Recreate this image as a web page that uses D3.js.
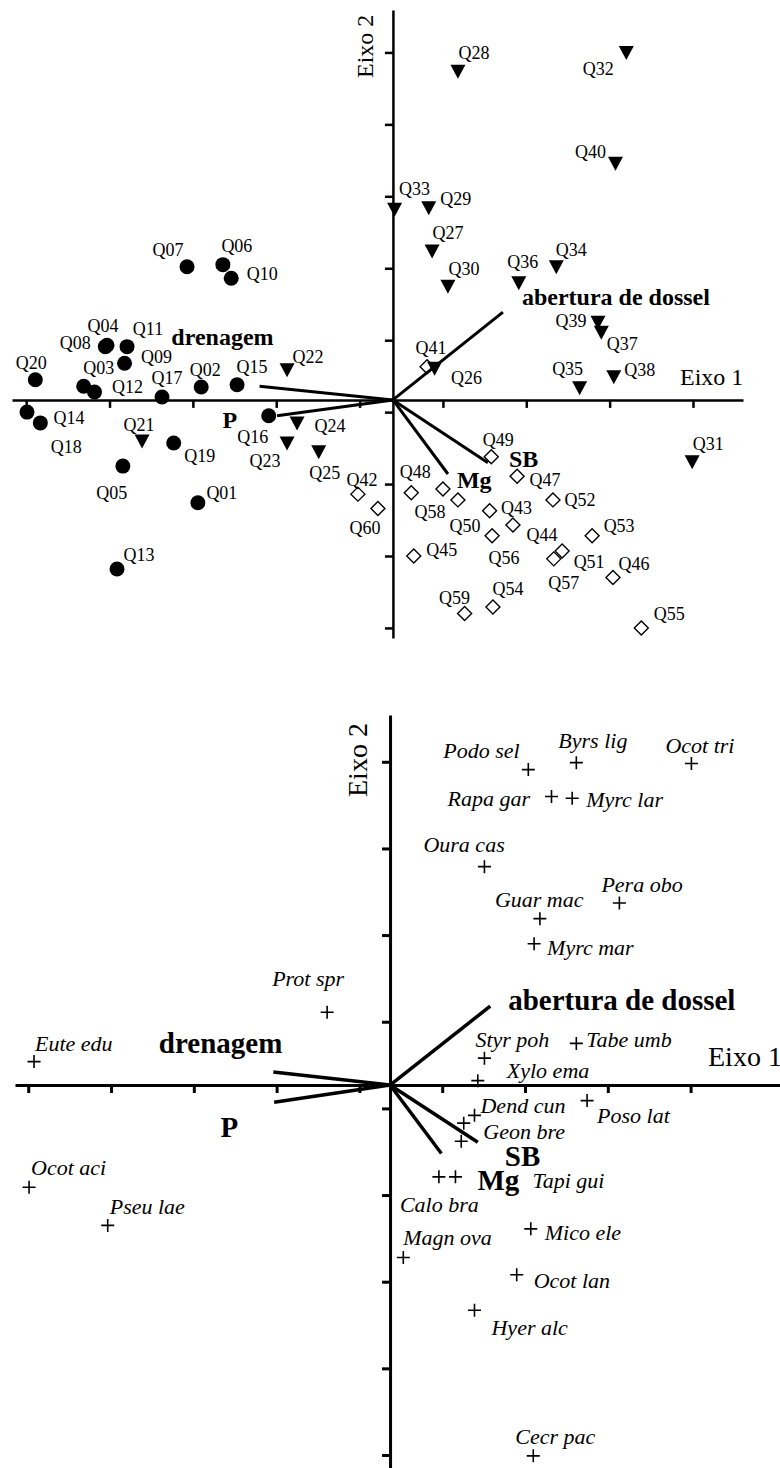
<!DOCTYPE html>
<html>
<head>
<meta charset="utf-8">
<script src="https://cdn.jsdelivr.net/npm/d3@7"></script>
<style>
  html, body { margin: 0; padding: 0; background: #fff; }
  svg { display: block; }
  text { font-family: "Liberation Serif", "Times New Roman", Times, serif; fill: #000; }
</style>
</head>
<body>
<svg id="chart" width="780" height="1468"></svg>
<script>
// ---------- Site scores (CCA, axis 1 and axis 2) ----------
const siteNames = [
  "Q01","Q02","Q03","Q04","Q05","Q06","Q07","Q08","Q09","Q10",
  "Q11","Q12","Q13","Q14","Q15","Q16","Q17","Q18","Q19","Q20",
  "Q21","Q22","Q23","Q24","Q25","Q26","Q27","Q28","Q29","Q30",
  "Q31","Q32","Q33","Q34","Q35","Q36","Q37","Q38","Q39","Q40",
  "Q41","Q42","Q43","Q44","Q45","Q46","Q47","Q48","Q49","Q50",
  "Q51","Q52","Q53","Q54","Q55","Q56","Q57","Q58","Q59","Q60"
];
const siteAxis1 = [
  -2.34,-2.30,-3.71,-3.43,-3.24,-2.04,-2.47,-3.45,-3.22,-1.94,
  -3.19,-3.58,-3.31,-4.39,-1.87,-1.49,-2.77,-4.23,-2.63,-4.29,
  -3.01,-1.27,-1.27,-1.15,-0.89, 0.50, 0.47, 0.78, 0.43, 0.66,
   3.59, 2.80, 0.02, 1.96, 2.24, 1.51, 2.50, 2.65, 2.46, 2.67,
   0.41,-0.42, 1.16, 1.44, 0.25, 2.64, 1.49, 0.22, 1.18, 0.78,
   2.03, 1.92, 2.39, 1.20, 2.98, 1.19, 1.93, 0.60, 0.86,-0.18
];
const siteAxis2 = [
  -1.43, 0.18, 0.19, 0.76,-0.92, 1.88, 1.85, 0.74, 0.51, 1.69,
   0.74, 0.11,-2.35,-0.17, 0.21,-0.22, 0.04,-0.32,-0.60, 0.28,
  -0.57, 0.42,-0.60,-0.32,-0.72, 0.44, 2.07, 4.57, 2.67, 1.58,
  -0.86, 4.83, 2.65, 1.85, 0.17, 1.63, 0.94, 0.32, 1.08, 3.29,
   0.46,-1.31,-1.54,-1.74,-2.17,-2.47,-1.06,-1.29,-0.79,-1.39,
  -2.10,-1.39,-1.89,-2.88,-3.17,-1.89,-2.21,-1.24,-2.97,-1.51
];
// site group: 1 = filled circle, 2 = filled triangle, 3 = open diamond
const siteGroup = [
  1,1,1,1,1,1,1,1,1,1, 1,1,1,1,1,1,1,1,1,1,
  2,2,2,2,2,2,2,2,2,2, 2,2,2,2,2,2,2,2,2,2,
  3,3,3,3,3,3,3,3,3,3, 3,3,3,3,3,3,3,3,3,3
];

// ---------- Environmental variables (biplot arrows) ----------
const envNames = ["drenagem", "P", "abertura de dossel", "SB", "Mg"];
const envSiteAxis1 = [-1.60, -1.39, 1.32, 1.14, 0.66];
const envSiteAxis2 = [ 0.19, -0.22, 1.22, -0.875, -1.03];
const envSpecAxis1 = [-1.41, -1.40, 1.21, 1.06, 0.62];
const envSpecAxis2 = [ 0.15, -0.20, 0.91, -0.66, -0.79];

// ---------- Species scores ----------
const speciesNames = [
  "Podo sel","Byrs lig","Ocot tri","Rapa gar","Myrc lar","Oura cas","Pera obo",
  "Guar mac","Myrc mar","Prot spr","Eute edu","Styr poh","Tabe umb","Xylo ema",
  "Dend cun","","Geon bre","Poso lat","Ocot aci","Pseu lae","Calo bra","Tapi gui",
  "Mico ele","Magn ova","Ocot lan","Hyer alc","Cecr pac"
];
const speciesAxis1 = [
  1.67, 2.25, 3.64, 1.95, 2.20, 1.14, 2.77,
  1.81, 1.74,-0.76,-4.30, 1.14, 2.25, 1.06,
  1.02, 0.89, 0.86, 2.38,-4.36,-3.41, 0.59, 0.79,
  1.70, 0.16, 1.53, 1.02, 1.73
];
const speciesAxis2 = [
  3.64, 3.72, 3.71, 3.33, 3.31, 2.52, 2.10,
  1.92, 1.63, 0.84, 0.27, 0.31, 0.48, 0.05,
 -0.35,-0.44,-0.65,-0.18,-1.18,-1.62,-1.06,-1.06,
 -1.66,-1.99,-2.19,-2.60,-4.28
];

// ---------- Axis decorations ----------
const topTicks1 = [-4.4,-3.4,-2.4,-1.4,-0.4,0.6,1.6,2.6,3.6];
const topTicks2 = [-3.17,-2.17,-1.17,-0.17,0.83,1.83,2.83,3.83,4.83];
const botTicks1 = [-4.37,-3.37,-2.37,-1.37,-0.37,0.63,1.63,2.63,3.63];
const botTicks2 = [-4.27,-3.27,-2.27,-1.27,-0.27,0.73,1.73,2.73,3.73];
const axisTitles = ["Eixo 1", "Eixo 2"];

// ---------- Label placement (offset from the marker, px) ----------
const siteLabelOffset = {
  Q01:[24,-10],Q02:[4,-17],Q03:[15,-18],Q04:[-4,-19],Q05:[-11,27],Q06:[14,-19],
  Q07:[-19,-17],Q08:[-30,-4],Q09:[32,-6],Q10:[31,-4],Q11:[21,-18],Q12:[33,-5],
  Q13:[22,-14],Q14:[42,6],Q15:[15,-18],Q16:[-16,21],Q17:[5,-19],Q18:[26,24],
  Q19:[26,13],Q20:[-4,-17],Q21:[-3,-16],Q22:[21,-13],Q23:[-22,18],Q24:[33,3],
  Q25:[6,21],Q26:[32,10],Q27:[16,-18],Q28:[16,-18],Q29:[27,-9],Q30:[16,-17],
  Q31:[16,-18],Q32:[-28,16],Q33:[20,-20],Q34:[15,-17],Q35:[-12,-19],Q36:[4,-21],
  Q37:[21,12],Q38:[26,-7],Q39:[-27,-1],Q40:[-25,-11],Q41:[4,-19],Q42:[4,-14],
  Q43:[27,-3],Q44:[29,10],Q45:[28,-6],Q46:[21,-14],Q47:[28,4],Q48:[4,-21],
  Q49:[7,-17],Q50:[7,26],Q51:[27,11],Q52:[27,0],Q53:[27,-10],Q54:[15,-18],
  Q55:[28,-14],Q56:[12,22],Q57:[10,24],Q58:[-13,23],Q59:[-10,-16],Q60:[-13,19]
};
// species labels: offset of text start / baseline from the marker
const speciesLabelOffset = {
  "Podo sel":[-85,-12],"Byrs lig":[-18,-15],"Ocot tri":[-26,-11],"Rapa gar":[-104,10],
  "Myrc lar":[14,9],"Oura cas":[-61,-15],"Pera obo":[-18,-11],"Guar mac":[-45,-12],
  "Myrc mar":[13,11],"Prot spr":[-55,-26],"Eute edu":[1,-11],"Styr poh":[-9,-11],
  "Tabe umb":[10,4],"Xylo ema":[29,-3],"Dend cun":[6,-2],"Geon bre":[22,-2],
  "Poso lat":[10,22],"Ocot aci":[2,-12],"Pseu lae":[2,-11],"Calo bra":[-39,35],
  "Tapi gui":[77,11],"Mico ele":[14,11],"Magn ova":[0,-12],"Ocot lan":[17,13],
  "Hyer alc":[17,25],"Cecr pac":[-18,-12]
};
// arrow labels: [dx, dy, anchor]
const envLabelTop = {
  "drenagem":[14,-41,"end"], "P":[-40,12,"end"], "abertura de dossel":[19,-7,"start"],
  "SB":[21,4,"start"], "Mg":[9,14,"start"]
};
const envLabelBot = {
  "drenagem":[9,-19,"end"], "P":[-36,35,"end"], "abertura de dossel":[18,4,"start"],
  "SB":[27,24,"start"], "Mg":[36,37,"start"]
};

const svg = d3.select("#chart");

// ---------- Scales ----------
const xTop = d3.scaleLinear().domain([-4.57, 4.2]).range([12, 743]);
const yTop = d3.scaleLinear().domain([-3.31, 5.42]).range([638, 10]);
const xBot = d3.scaleLinear().domain([-4.53, 4.71]).range([15, 780]);
const yBot = d3.scaleLinear().domain([-4.42, 4.27]).range([1468, 715]);

function drawAxes(g, x, y, ticksX, ticksY, strokeW) {
  const ax = g.append("g")
    .attr("transform", `translate(0,${y(0)})`)
    .call(d3.axisBottom(x).tickValues(ticksX).tickFormat("").tickSizeOuter(0).tickSizeInner(8));
  const ay = g.append("g")
    .attr("transform", `translate(${x(0)},0)`)
    .call(d3.axisLeft(y).tickValues(ticksY).tickFormat("").tickSizeOuter(0).tickSizeInner(8));
  [ax, ay].forEach(a => {
    a.select(".domain").attr("stroke", "#000").attr("stroke-width", strokeW);
    a.selectAll(".tick line").attr("stroke", "#000").attr("stroke-width", strokeW);
  });
}

function drawArrows(g, x, y, a1, a2, placement, fontSize, strokeW) {
  const env = envNames.map((n, i) => ({ name: n, a: a1[i], b: a2[i] }));
  g.selectAll("line.env").data(env).join("line")
    .attr("class", "env")
    .attr("x1", x(0)).attr("y1", y(0))
    .attr("x2", d => x(d.a)).attr("y2", d => y(d.b))
    .attr("stroke", "#000").attr("stroke-width", strokeW).attr("stroke-linecap", "butt");
  g.selectAll("text.env").data(env).join("text")
    .attr("class", "env")
    .attr("x", d => x(d.a) + placement[d.name][0])
    .attr("y", d => y(d.b) + placement[d.name][1])
    .attr("text-anchor", d => placement[d.name][2])
    .attr("font-weight", "bold")
    .attr("font-size", fontSize)
    .text(d => d.name);
}

// ================= Top panel: sites =================
const sitePanel = svg.append("g");
drawAxes(sitePanel, xTop, yTop, topTicks1, topTicks2, 2.5);
drawArrows(sitePanel, xTop, yTop, envSiteAxis1, envSiteAxis2, envLabelTop, 24, 3);

const sites = siteNames.map((n, i) => ({ name: n, a: siteAxis1[i], b: siteAxis2[i], g: siteGroup[i] }));
const triPath = "M-7.5,-6.5L7.5,-6.5L0,7.5Z";
const diaPath = "M0,-7L7,0L0,7L-7,0Z";

const marks = sitePanel.selectAll("g.site").data(sites).join("g")
  .attr("class", "site")
  .attr("transform", d => `translate(${xTop(d.a)},${yTop(d.b)})`);
marks.filter(d => d.g === 1).append("circle").attr("r", 7.5).attr("fill", "#000");
marks.filter(d => d.g === 2).append("path").attr("d", triPath).attr("fill", "#000");
marks.filter(d => d.g === 3).append("path").attr("d", diaPath)
  .attr("fill", "none").attr("stroke", "#000").attr("stroke-width", 1.4);

sitePanel.selectAll("text.site").data(sites).join("text")
  .attr("class", "site")
  .attr("x", d => xTop(d.a) + siteLabelOffset[d.name][0])
  .attr("y", d => yTop(d.b) + siteLabelOffset[d.name][1])
  .attr("text-anchor", "middle")
  .attr("dy", "0.34em")
  .attr("font-size", 18)
  .text(d => d.name);

sitePanel.append("text")
  .attr("x", 680).attr("y", 385)
  .attr("font-size", 24)
  .text(axisTitles[0]);
sitePanel.append("text")
  .attr("transform", "translate(373,78) rotate(-90)")
  .attr("font-size", 24)
  .text(axisTitles[1]);

// ================= Bottom panel: species =================
const speciesPanel = svg.append("g");
drawAxes(speciesPanel, xBot, yBot, botTicks1, botTicks2, 3);
drawArrows(speciesPanel, xBot, yBot, envSpecAxis1, envSpecAxis2, envLabelBot, 29, 3.5);

const species = speciesNames.map((n, i) => ({ name: n, a: speciesAxis1[i], b: speciesAxis2[i] }));
speciesPanel.selectAll("path.sp").data(species).join("path")
  .attr("class", "sp")
  .attr("transform", d => `translate(${xBot(d.a)},${yBot(d.b)})`)
  .attr("d", "M-6.5,0H6.5M0,-6.5V6.5")
  .attr("stroke", "#000").attr("stroke-width", 1.6).attr("fill", "none");

speciesPanel.selectAll("text.sp").data(species.filter(d => d.name !== "")).join("text")
  .attr("class", "sp")
  .attr("x", d => xBot(d.a) + speciesLabelOffset[d.name][0])
  .attr("y", d => yBot(d.b) + speciesLabelOffset[d.name][1])
  .attr("font-style", "italic")
  .attr("font-size", 22)
  .text(d => d.name);

speciesPanel.append("text")
  .attr("x", 708).attr("y", 1066)
  .attr("font-size", 28)
  .text(axisTitles[0]);
speciesPanel.append("text")
  .attr("transform", "translate(367,797) rotate(-90)")
  .attr("font-size", 28)
  .text(axisTitles[1]);
</script>
</body>
</html>
